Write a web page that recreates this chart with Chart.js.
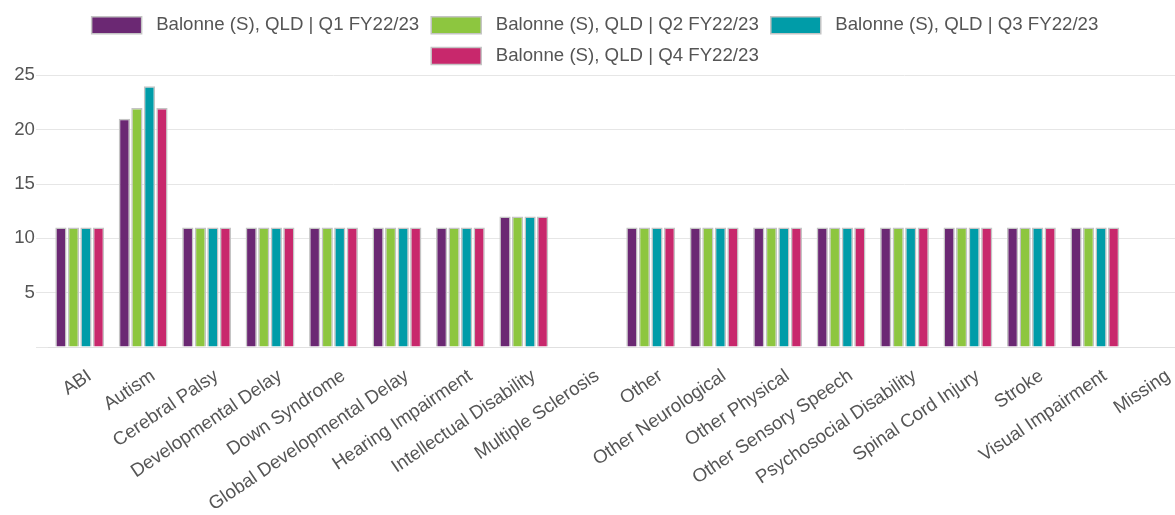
<!DOCTYPE html>
<html><head><meta charset="utf-8">
<script src="https://cdn.jsdelivr.net/npm/chart.js@4/dist/chart.umd.min.js"></script>
<style>html,body{margin:0;padding:0;background:#fff;overflow:hidden}#wrap{width:1192px;height:515px}</style>
</head><body><div id="wrap"><canvas id="c"></canvas></div>
<script>
const categories = ["ABI","Autism","Cerebral Palsy","Developmental Delay","Down Syndrome","Global Developmental Delay","Hearing Impairment","Intellectual Disability","Multiple Sclerosis","Other","Other Neurological","Other Physical","Other Sensory Speech","Psychosocial Disability","Spinal Cord Injury","Stroke","Visual Impairment","Missing"];
const q1 = [11,21,11,11,11,11,11,12,null,11,11,11,11,11,11,11,11,null];
const q2 = [11,22,11,11,11,11,11,12,null,11,11,11,11,11,11,11,11,null];
const q3 = [11,24,11,11,11,11,11,12,null,11,11,11,11,11,11,11,11,null];
const q4 = [11,22,11,11,11,11,11,12,null,11,11,11,11,11,11,11,11,null];
const seriesNames = ["Balonne (S), QLD | Q1 FY22/23","Balonne (S), QLD | Q2 FY22/23","Balonne (S), QLD | Q3 FY22/23","Balonne (S), QLD | Q4 FY22/23"];
const colors = ["#6b2873","#8dc63f","#009ca8","#c8286c"];
const yTicks = [5,10,15,20,25];

const FS = 18.67;
Chart.defaults.font.family = "'Liberation Sans', Arial, sans-serif";
Chart.defaults.color = "#555";
new Chart(document.getElementById('c'), {
  type: 'bar',
  data: {
    labels: categories,
    datasets: [q1,q2,q3,q4].map((d,i)=>({
      label: seriesNames[i], data: d, backgroundColor: colors[i],
      borderColor: '#c4c4c4', borderWidth: 1.5,
      categoryPercentage: 0.79, barPercentage: 0.9
    }))
  },
  options: {
    responsive: true, maintainAspectRatio: false, animation: false,
    layout: { padding: { top: 4, right: 2, left: 0, bottom: 0 } },
    plugins: {
      legend: { labels: { boxWidth: 50, boxHeight: 17, font: { size: FS }, color: '#555', padding: 12,
        generateLabels: (chart) => Chart.defaults.plugins.legend.labels.generateLabels(chart).map(l => Object.assign(l, { text: ' ' + l.text }))
      } },
      tooltip: { enabled: false }
    },
    scales: {
      x: {
        grid: { display: false },
        border: { color: '#e0e0e0' },
        afterFit: (ax) => { ax.height = 168; },
        ticks: { minRotation: 34, maxRotation: 34, font: { size: FS }, color: '#555', autoSkip: false, padding: 10, labelOffset: 10 }
      },
      y: {
        min: 0, max: 25,
        grid: { color: '#e6e6e6', drawTicks: true, tickLength: 12 },
        border: { display: false },
        afterFit: (ax) => { ax.width = 48; },
        afterBuildTicks: (ax) => { ax.ticks = [0].concat(yTicks).map(v=>({value:v})); },
        ticks: { font: { size: FS }, color: '#555', padding: 1, callback: v => v === 0 ? '' : v }
      }
    }
  }
});
</script></body></html>
